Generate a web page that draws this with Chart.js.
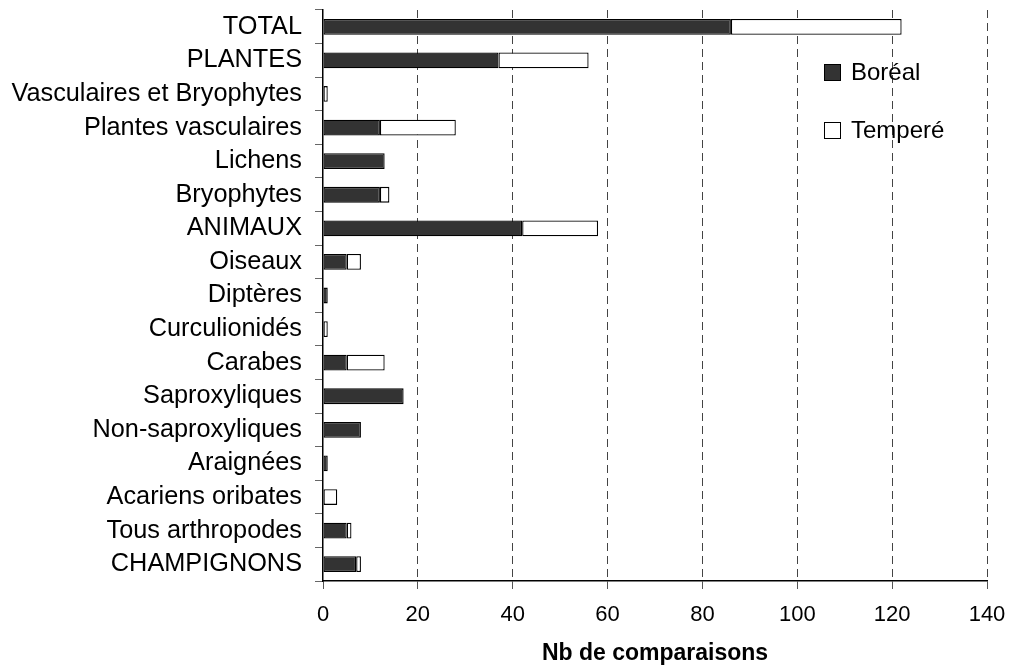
<!DOCTYPE html>
<html>
<head>
<meta charset="utf-8">
<script src="https://cdn.jsdelivr.net/npm/chart.js@4/dist/chart.umd.min.js"></script>
<style>
  html, body { margin: 0; padding: 0; background: #fff; }
  #wrap { position: relative; width: 1009px; height: 668px; }
  #legende { position: absolute; left: 824px; top: 58px; font-family: 'Liberation Sans', Arial, sans-serif; font-size: 24px; color: #000; }
  #legende .item { height: 58px; display: flex; align-items: flex-start; }
  #legende .carre { width: 15px; height: 15px; border: 1px solid #000; margin-top: 6px; margin-right: 10px; }
</style>
</head>
<body>
<div id="wrap">
  <canvas id="comparaisonsChart" width="1009" height="668"></canvas>
  <div id="legende"></div>
</div>
<script>
// Données
const categories = ['TOTAL', 'PLANTES', 'Vasculaires et Bryophytes', 'Plantes vasculaires', 'Lichens', 'Bryophytes', 'ANIMAUX', 'Oiseaux', 'Diptères', 'Curculionidés', 'Carabes', 'Saproxyliques', 'Non-saproxyliques', 'Araignées', 'Acariens oribates', 'Tous arthropodes', 'CHAMPIGNONS'];
const boreal  = [86, 37, 0, 12, 13, 12, 42, 5, 1, 0, 5, 17, 8, 1, 0, 5, 7];
const tempere = [36, 19, 1, 16, 0, 2, 16, 3, 0, 1, 8, 0, 0, 0, 3, 1, 1];
const xTicks = [0, 20, 40, 60, 80, 100, 120, 140];

document.addEventListener('DOMContentLoaded', function() {
    const ctx = document.getElementById('comparaisonsChart');

    const series = [
        { label: 'Boréal', data: boreal, fill: '#333333' },
        { label: 'Temperé', data: tempere, fill: '#ffffff' }
    ];

    // Légende (texte HTML)
    const legende = document.getElementById('legende');
    series.forEach(function(s) {
        const item = document.createElement('div');
        item.className = 'item';
        item.innerHTML = '<span class="carre" style="background:' + s.fill + '"></span><span>' + s.label + '</span>';
        legende.appendChild(item);
    });

    new Chart(ctx, {
        type: 'bar',
        data: {
            labels: categories,
            datasets: series.map(function(s) {
                return {
                    label: s.label,
                    data: s.data.map(function(v) { return v === 0 ? null : v; }),
                    backgroundColor: s.fill,
                    borderColor: '#000',
                    borderWidth: 1.3,
                    borderSkipped: false,
                    barPercentage: 0.47,
                    categoryPercentage: 1
                };
            })
        },
        options: {
            indexAxis: 'y',
            responsive: false,
            animation: false,
            layout: { padding: { top: 10, right: 22, bottom: 0, left: 0 } },
            plugins: {
                legend: { display: false },
                tooltip: { enabled: false }
            },
            scales: {
                x: {
                    stacked: true,
                    min: 0,
                    max: 140,
                    afterFit: function(scale) {
                        scale.height = 87;
                        scale.paddingLeft = 0;
                        scale.paddingRight = 0;
                    },
                    afterBuildTicks: function(scale) {
                        scale.ticks = xTicks.map(function(v) { return { value: v }; });
                    },
                    border: { display: true, color: '#000', width: 1.5, dash: [8, 5] },
                    grid: {
                        color: function(c) { return c.tick && c.tick.value === 0 ? 'rgba(0,0,0,0)' : '#444'; },
                        lineWidth: 1,
                        tickLength: 8,
                        tickColor: '#555',
                        tickBorderDash: []
                    },
                    ticks: {
                        color: '#000',
                        padding: 13,
                        maxRotation: 0,
                        font: { family: "'Liberation Sans', Arial, sans-serif", size: 22 }
                    },
                    title: {
                        display: true,
                        text: 'Nb de comparaisons',
                        color: '#000',
                        padding: { top: 0, bottom: 1 },
                        font: { family: "'Liberation Sans', Arial, sans-serif", size: 23, weight: 'bold' }
                    }
                },
                y: {
                    stacked: true,
                    afterFit: function(scale) {
                        scale.width = 323;
                        scale.paddingTop = 0;
                        scale.paddingBottom = 0;
                    },
                    border: { display: true, color: '#000', width: 1.5 },
                    grid: {
                        drawOnChartArea: false,
                        offset: true,
                        tickLength: 8,
                        color: '#666'
                    },
                    ticks: {
                        autoSkip: false,
                        color: '#000',
                        padding: 13,
                        font: { family: "'Liberation Sans', Arial, sans-serif", size: 25.3 }
                    }
                }
            }
        }
    });
});
</script>
</body>
</html>
